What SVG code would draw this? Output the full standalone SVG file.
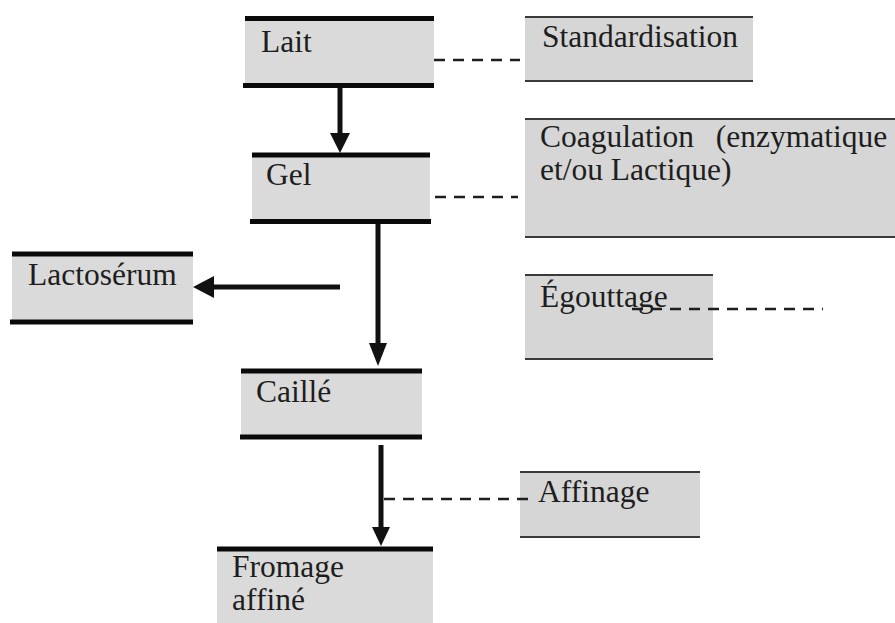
<svg xmlns="http://www.w3.org/2000/svg" width="895" height="623" viewBox="0 0 895 623">
  <style>
    .lbl { font-family: 'Liberation Serif', 'DejaVu Serif', 'Times New Roman', serif; font-size: 31.5px; fill: #1e1e1e; }
    .fillL { fill: #dadada; }
    .fillR { fill: #d6d6d6; }
    .barL { stroke: #0a0a0a; stroke-width: 5; }
    .barR { stroke: #3a3a3a; stroke-width: 2.2; }
    .dash { stroke: #1e1e1e; stroke-width: 2.5; stroke-dasharray: 11 8; fill: none; }
    .shaft { stroke: #111; stroke-width: 5; fill: none; }
    .head { fill: #111; }
  </style>
  <rect width="895" height="623" fill="#ffffff"/>

  <!-- Main flow nodes -->
  <g id="lait">
    <rect class="fillL" x="245" y="18" width="189" height="68"/>
    <line class="barL" x1="245" y1="18.5" x2="434" y2="18.5"/>
    <line class="barL" x1="243" y1="85.5" x2="434" y2="85.5"/>
    <text class="lbl" font-family="Liberation Serif, serif" x="261" y="52">Lait</text>
  </g>
  <g id="gel">
    <rect class="fillL" x="252" y="155" width="178" height="67"/>
    <line class="barL" x1="252" y1="155" x2="430" y2="155"/>
    <line class="barL" x1="250" y1="221.5" x2="431" y2="221.5"/>
    <text class="lbl" font-family="Liberation Serif, serif" x="266" y="185">Gel</text>
  </g>
  <g id="lactoserum">
    <rect class="fillL" x="12" y="254" width="181" height="68"/>
    <line class="barL" x1="12" y1="254" x2="193" y2="254"/>
    <line class="barL" x1="10" y1="322" x2="193" y2="322"/>
    <text class="lbl" font-family="Liberation Serif, serif" x="28" y="285">Lactosérum</text>
  </g>
  <g id="caille">
    <rect class="fillL" x="241" y="371" width="181" height="66"/>
    <line class="barL" x1="241" y1="371" x2="422" y2="371"/>
    <line class="barL" x1="240" y1="437" x2="422" y2="437"/>
    <text class="lbl" font-family="Liberation Serif, serif" x="256" y="402">Caillé</text>
  </g>
  <g id="fromage">
    <rect class="fillL" x="217" y="549" width="216" height="74"/>
    <line class="barL" x1="217" y1="549" x2="433" y2="549"/>
    <text class="lbl" font-family="Liberation Serif, serif" x="232" y="577">Fromage</text>
    <text class="lbl" font-family="Liberation Serif, serif" x="232" y="610">affiné</text>
  </g>

  <!-- Operation nodes -->
  <g id="standardisation">
    <rect class="fillR" x="525" y="17" width="228" height="64"/>
    <line class="barR" x1="525" y1="17" x2="753" y2="17"/>
    <line class="barR" x1="525" y1="81" x2="753" y2="81"/>
    <text class="lbl" font-family="Liberation Serif, serif" x="542" y="47">Standardisation</text>
  </g>
  <g id="coagulation">
    <rect class="fillR" x="525" y="119" width="370" height="118"/>
    <line class="barR" x1="525" y1="119" x2="895" y2="119"/>
    <line class="barR" x1="525" y1="237" x2="895" y2="237"/>
    <text class="lbl" font-family="Liberation Serif, serif" x="540" y="147" word-spacing="14">Coagulation (enzymatique</text>
    <text class="lbl" font-family="Liberation Serif, serif" x="540" y="180">et/ou Lactique)</text>
  </g>
  <g id="egouttage">
    <rect class="fillR" x="525" y="275" width="188" height="84"/>
    <line class="barR" x1="525" y1="275" x2="713" y2="275"/>
    <line class="barR" x1="525" y1="359" x2="713" y2="359"/>
    <text class="lbl" font-family="Liberation Serif, serif" x="540" y="307">Égouttage</text>
  </g>
  <g id="affinage">
    <rect class="fillR" x="520" y="472" width="180" height="65"/>
    <line class="barR" x1="520" y1="472" x2="700" y2="472"/>
    <line class="barR" x1="520" y1="537" x2="700" y2="537"/>
    <text class="lbl" font-family="Liberation Serif, serif" x="538" y="502">Affinage</text>
  </g>

  <!-- Connectors -->
  <g id="connectors">
    <line class="shaft" x1="340" y1="88" x2="340" y2="135"/>
    <polygon class="head" points="330,133 350,133 340,153"/>

    <line class="shaft" x1="378" y1="224" x2="378" y2="345"/>
    <polygon class="head" points="369,343 387,343 378,366"/>

    <line class="shaft" x1="381" y1="445" x2="381" y2="529"/>
    <polygon class="head" points="372,527 390,527 381,546"/>

    <line class="shaft" x1="340" y1="287" x2="211" y2="287"/>
    <polygon class="head" points="214,276 214,298 193,287"/>

    <line class="dash" x1="434" y1="60" x2="520" y2="60"/>
    <line class="dash" x1="435" y1="197" x2="518" y2="197"/>
    <line class="dash" x1="632" y1="309" x2="823" y2="309"/>
    <line class="dash" x1="384" y1="499" x2="534" y2="499"/>
  </g>
</svg>
